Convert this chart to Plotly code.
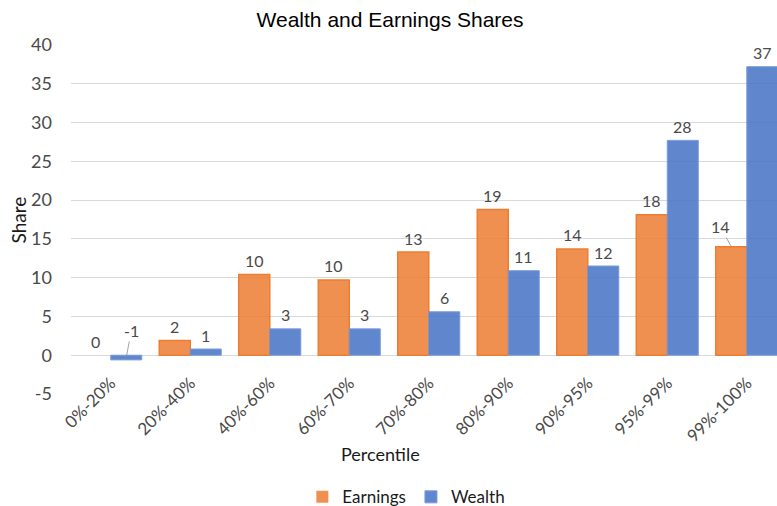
import plotly.graph_objects as go

categories = ["0%-20%", "20%-40%", "40%-60%", "60%-70%", "70%-80%",
              "80%-90%", "90%-95%", "95%-99%", "99%-100%"]
earnings = [0.0, 1.9, 10.4, 9.7, 13.3, 18.8, 13.7, 18.1, 14.0]
wealth = [-0.6, 0.8, 3.4, 3.4, 5.6, 10.9, 11.5, 27.7, 37.2]
y_ticks = [-5, 0, 5, 10, 15, 20, 25, 30, 35, 40]

FONT = "Lato, 'Liberation Sans', sans-serif"
TITLE_FONT = "'Liberation Sans', Arial, sans-serif"
GRAY = "#4a4a4a"
BARGAP = 0.22
off = (1 - BARGAP) / 4  # half bar width in category units

fig = go.Figure()
fig.add_trace(go.Bar(name="Earnings", x=categories, y=earnings,
                     marker=dict(color="rgba(237,125,49,0.85)",
                                 line=dict(color="#ED7D31",
                                           width=[1.5 if v != 0 else 0 for v in earnings]))))
fig.add_trace(go.Bar(name="Wealth", x=categories, y=wealth,
                     marker=dict(color="rgba(68,114,196,0.85)",
                                 line=dict(color="rgba(120,155,220,1)", width=1))))

annotations = []
leaders = {("w", 0): (5, -27), ("e", 8): (-11, -20)}
for key, vals, sign in (("e", earnings, -1), ("w", wealth, 1)):
    for i, v in enumerate(vals):
        txt = f"{v:.0f}" if abs(v) >= 0.5 else "0"
        xpos = i + sign * off
        if (key, i) in leaders:
            ax, ay = leaders[(key, i)]
            yhead = v if v >= 0 else v / 2
            annotations.append(dict(x=xpos, y=yhead, xref="x", yref="y", text=txt,
                                    showarrow=True, arrowhead=0, arrowwidth=0.8,
                                    arrowcolor="#8c8c8c", ax=ax, ay=ay, standoff=0,
                                    font=dict(family=FONT, size=16, color=GRAY)))
        else:
            annotations.append(dict(x=xpos, y=max(v, 0), xref="x", yref="y", text=txt,
                                    showarrow=False, yanchor="middle", yshift=14,
                                    font=dict(family=FONT, size=16, color=GRAY)))

annotations.append(dict(text="Percentile", x=(380 - 71) / 706, y=-0.173, xref="paper",
                        yref="paper", xanchor="center", yanchor="middle", showarrow=False,
                        font=dict(family=FONT, size=18, color="#1a1a1a")))
annotations.append(dict(text="Share", x=(18 - 71) / 706, y=0.5, xref="paper", yref="paper",
                        xanchor="center", yanchor="middle",
                        textangle=-90, showarrow=False,
                        font=dict(family=FONT, size=19, color="#1a1a1a")))

fig.update_layout(
    width=777, height=506,
    margin=dict(l=71, r=0, t=45, b=112, autoexpand=False),
    paper_bgcolor="white", plot_bgcolor="white",
    barmode="group", bargap=BARGAP, bargroupgap=0,
    title=dict(text="Wealth and Earnings Shares", x=0.502, xanchor="center",
               y=1 - 20 / 506, yanchor="middle", automargin=False,
               font=dict(family=TITLE_FONT, size=21, color="#000000")),
    font=dict(family=FONT, color=GRAY),
    showlegend=True,
    legend=dict(orientation="h", x=0.475, xanchor="center", y=-0.296, yanchor="middle",
                font=dict(family=FONT, size=17, color="#1a1a1a"),
                itemwidth=30, traceorder="normal"),
    annotations=annotations,
)
fig.update_xaxes(type="category", range=[-0.5, 8.38], tickangle=-45, automargin=False,
                 tickfont=dict(family=FONT, size=17, color=GRAY),
                 showgrid=False, zeroline=False, showline=False,
                 ticklabelstandoff=-25)
fig.update_yaxes(range=[-5, 40], tickvals=y_ticks, ticktext=[str(t) for t in y_ticks],
                 showgrid=True, gridcolor="#D9D9D9",
                 gridwidth=1, zeroline=True, zerolinecolor="#D9D9D9", zerolinewidth=1,
                 tickfont=dict(family=FONT, size=18, color=GRAY), ticklabelstandoff=18,
                 showline=False, automargin=False)

fig.write_html("out.html", config={"displayModeBar": False},
               post_script="document.body.style.margin='0';document.body.style.overflow='hidden';")
